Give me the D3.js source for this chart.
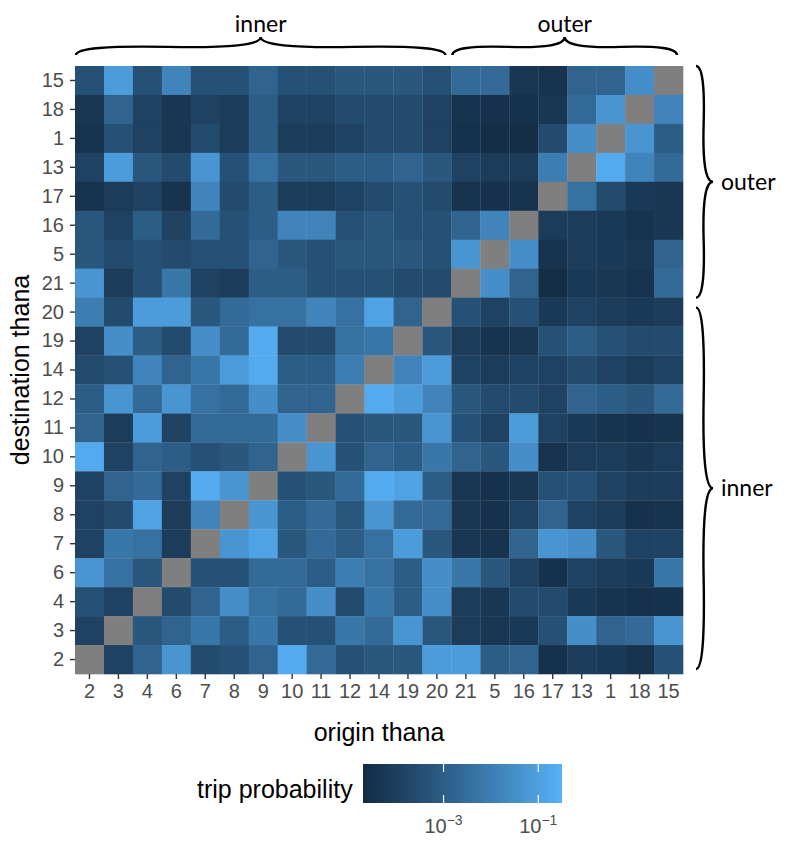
<!DOCTYPE html>
<html>
<head>
<meta charset="utf-8">
<script src="https://cdn.jsdelivr.net/npm/d3@7"></script>
<style>
  body { margin: 0; background: #fff; }
  svg { display: block; }
</style>
</head>
<body>
<svg width="792" height="847"></svg>
<script>
// Origin thanas (x) and destination thanas (y, top to bottom)
const origins = ["2","3","4","6","7","8","9","10","11","12","14","19","20","21","5","16","17","13","1","18","15"];
const destinations = ["15","18","1","13","17","16","5","21","20","19","14","12","11","10","9","8","7","6","4","3","2"];

// log10 of trip probability, one row per destination (same order), null on the diagonal
const logProb = [
  [-3.4,-1.1,-3.4,-1.8,-3.4,-3.4,-2.8,-3.4,-3.4,-3.2,-3.2,-3.2,-3.4,-2.6,-2.6,-4.3,-4.4,-2.8,-2.8,-1.5,null],
  [-4.3,-2.8,-3.9,-4.3,-3.9,-4.1,-3.0,-3.9,-3.9,-3.6,-3.6,-3.6,-3.9,-4.4,-4.5,-4.5,-4.3,-2.6,-1.3,null,-1.8],
  [-4.4,-3.4,-3.9,-4.3,-3.6,-4.1,-3.0,-4.1,-4.1,-3.9,-3.6,-3.6,-3.9,-4.5,-4.6,-4.6,-3.6,-1.5,null,-1.3,-3.0],
  [-3.9,-1.1,-3.2,-3.6,-1.3,-3.4,-2.4,-3.2,-3.2,-3.0,-3.0,-2.8,-3.2,-3.9,-4.1,-4.1,-2.0,null,-0.7,-1.8,-2.6],
  [-4.4,-4.1,-3.9,-4.4,-1.8,-3.6,-3.0,-4.1,-4.1,-3.9,-3.6,-3.4,-3.6,-4.4,-4.5,-4.4,null,-2.4,-3.6,-4.2,-4.3],
  [-3.2,-3.9,-3.0,-3.9,-2.6,-3.4,-3.0,-1.8,-1.8,-3.4,-3.2,-3.4,-3.4,-2.8,-1.8,null,-4.1,-4.1,-4.2,-4.4,-4.3],
  [-3.2,-3.6,-3.4,-3.6,-3.4,-3.4,-2.8,-3.2,-3.4,-3.2,-3.2,-3.2,-3.4,-1.3,null,-1.5,-4.4,-4.1,-4.2,-4.3,-2.8],
  [-1.3,-4.1,-3.4,-2.2,-3.9,-4.1,-3.0,-3.0,-3.4,-3.4,-3.4,-3.6,-3.6,null,-1.5,-2.8,-4.6,-4.2,-4.3,-4.4,-2.6],
  [-2.0,-3.6,-1.1,-1.1,-3.2,-2.6,-2.4,-2.4,-1.8,-2.4,-0.9,-2.8,null,-3.4,-3.9,-3.4,-4.2,-3.9,-4.1,-4.2,-4.1],
  [-3.9,-1.5,-3.0,-3.6,-1.5,-2.6,-0.7,-3.6,-3.6,-2.4,-2.2,null,-3.2,-4.1,-4.4,-4.3,-3.4,-3.0,-3.4,-3.6,-3.6],
  [-3.6,-3.4,-1.8,-2.8,-2.2,-1.1,-0.7,-3.0,-3.0,-2.0,null,-1.8,-1.1,-3.9,-4.1,-3.9,-3.9,-3.6,-3.9,-4.1,-3.9],
  [-3.0,-1.3,-2.6,-1.3,-2.4,-2.6,-1.5,-2.8,-2.8,null,-0.7,-1.1,-1.8,-3.2,-3.6,-3.6,-3.9,-2.8,-3.0,-3.2,-2.6],
  [-2.8,-4.1,-1.1,-3.9,-2.6,-2.6,-2.6,-1.5,null,-3.4,-3.2,-3.2,-1.3,-3.4,-3.9,-1.1,-3.9,-4.2,-4.4,-4.5,-4.4],
  [-0.7,-3.9,-2.8,-3.0,-3.4,-3.2,-2.8,null,-1.3,-3.4,-2.8,-3.0,-2.2,-2.8,-3.2,-1.5,-4.4,-4.1,-4.1,-4.3,-4.1],
  [-3.9,-2.8,-2.6,-3.9,-0.7,-1.3,null,-3.4,-3.2,-2.6,-0.7,-0.9,-3.0,-4.3,-4.5,-4.3,-3.4,-3.4,-3.9,-4.1,-4.1],
  [-3.9,-3.6,-0.9,-4.1,-1.8,null,-1.3,-3.0,-2.6,-3.2,-1.3,-2.6,-2.6,-4.3,-4.5,-3.9,-2.8,-3.9,-4.1,-4.5,-4.4],
  [-3.9,-2.2,-2.4,-4.1,null,-1.3,-0.9,-3.2,-2.6,-3.0,-2.4,-1.1,-3.2,-4.3,-4.4,-2.8,-1.3,-1.5,-3.2,-3.9,-3.9],
  [-1.3,-2.4,-3.2,null,-3.4,-3.4,-2.6,-2.6,-3.0,-2.0,-2.4,-3.0,-1.5,-2.2,-3.2,-3.9,-4.5,-3.9,-4.1,-4.2,-2.2],
  [-3.4,-3.9,null,-3.6,-2.8,-1.5,-2.4,-2.6,-1.5,-3.6,-2.2,-3.0,-1.5,-4.1,-4.3,-3.6,-3.6,-4.2,-4.4,-4.5,-4.5],
  [-3.9,null,-3.2,-2.8,-2.2,-3.0,-2.2,-3.4,-3.4,-2.2,-2.6,-1.3,-3.2,-4.1,-4.3,-4.2,-3.4,-1.5,-2.8,-2.6,-1.3],
  [null,-3.9,-2.8,-1.3,-3.6,-3.4,-2.8,-0.7,-2.6,-3.4,-3.2,-3.2,-1.1,-1.1,-3.0,-2.8,-4.5,-4.1,-4.2,-4.4,-3.4]
];

// Legend ticks (log10 values) and group braces
const legendTicks = [-3, -1];
const colGroups = [{label: "inner", from: "2", to: "20"}, {label: "outer", from: "21", to: "15"}];
const rowGroups = [{label: "outer", from: "15", to: "21"}, {label: "inner", from: "20", to: "2"}];

const svg = d3.select("svg");

// Panel geometry
const panelLeft = 75, panelRight = 683, panelTop = 66, panelBottom = 674;

const x = d3.scaleBand().domain(origins).range([panelLeft, panelRight]);
const y = d3.scaleBand().domain(destinations).range([panelTop, panelBottom]);

const logDomain = [-4.7, -0.5];
const color = d3.scaleLinear().domain(logDomain).range(["#132B43", "#56B1F7"])
  .interpolate(d3.interpolateLab).clamp(true);

// Flatten cells
const cells = [];
destinations.forEach((dest, i) => {
  origins.forEach((orig, j) => {
    cells.push({origin: orig, dest: dest, v: logProb[i][j]});
  });
});

// Tiles
svg.append("g").selectAll("rect")
  .data(cells)
  .enter()
  .append("rect")
  .attr("x", d => x(d.origin))
  .attr("y", d => y(d.dest))
  .attr("width", x.bandwidth() + 0.3)
  .attr("height", y.bandwidth() + 0.3)
  .attr("fill", d => d.v === null ? "#7F7F7F" : color(d.v));

// Axes
const xAxis = svg.append("g")
  .attr("transform", `translate(0,${panelBottom})`)
  .call(d3.axisBottom(x).tickSize(5).tickPadding(5));
const yAxis = svg.append("g")
  .attr("transform", `translate(${panelLeft},0)`)
  .call(d3.axisLeft(y).tickSize(5).tickPadding(6));

[xAxis, yAxis].forEach(a => {
  a.select(".domain").remove();
  a.selectAll(".tick line").attr("stroke", "#333333").attr("stroke-width", 1.4);
  a.selectAll(".tick text")
    .attr("fill", "#4D4D4D")
    .style("font-family", "'Liberation Sans', Arial, sans-serif")
    .style("font-size", "20px");
});

// Axis titles
svg.append("text")
  .text("origin thana")
  .attr("x", (panelLeft + panelRight) / 2)
  .attr("y", 741)
  .attr("text-anchor", "middle")
  .style("font-family", "'Liberation Sans', Arial, sans-serif")
  .style("font-size", "25px");

svg.append("text")
  .text("destination thana")
  .attr("transform", `translate(29,${(panelTop + panelBottom) / 2}) rotate(-90)`)
  .attr("text-anchor", "middle")
  .style("font-family", "'Liberation Sans', Arial, sans-serif")
  .style("font-size", "25px");

// Curly brace path between two points, bulging to the left of the direction of travel
function bracePath(x1, y1, x2, y2, w, q) {
  let dx = x1 - x2, dy = y1 - y2;
  const len = Math.sqrt(dx * dx + dy * dy);
  dx /= len; dy /= len;
  const qx1 = x1 + q * w * dy, qy1 = y1 - q * w * dx;
  const qx2 = (x1 - .25 * len * dx) + (1 - q) * w * dy, qy2 = (y1 - .25 * len * dy) - (1 - q) * w * dx;
  const tx1 = (x1 - .5 * len * dx) + w * dy, ty1 = (y1 - .5 * len * dy) - w * dx;
  const qx3 = x2 + q * w * dy, qy3 = y2 - q * w * dx;
  const qx4 = (x1 - .75 * len * dx) + (1 - q) * w * dy, qy4 = (y1 - .75 * len * dy) - (1 - q) * w * dx;
  return `M${x1},${y1} Q${qx1},${qy1} ${qx2},${qy2} T${tx1},${ty1} ` +
         `M${x2},${y2} Q${qx3},${qy3} ${qx4},${qy4} T${tx1},${ty1}`;
}

const braceFont = "Lato, 'Open Sans', sans-serif";

// Top braces
colGroups.forEach(g => {
  const x0 = x(g.from) + 1, x1 = x(g.to) + x.bandwidth() - 6;
  svg.append("path")
    .attr("d", bracePath(x1, 55, x0, 55, 18, 0.55))
    .attr("fill", "none").attr("stroke", "#000").attr("stroke-width", 2.4);
  svg.append("text")
    .text(g.label)
    .attr("x", (x0 + x1) / 2)
    .attr("y", 32)
    .attr("text-anchor", "middle")
    .style("font-family", braceFont)
    .style("font-size", "23px");
});

// Right braces
rowGroups.forEach((g, i) => {
  const y0 = y(g.from) + (i === 0 ? 0 : 10), y1 = y(g.to) + y.bandwidth() - (i === 0 ? 0 : 5);
  svg.append("path")
    .attr("d", bracePath(696, y1, 696, y0, 17, 0.55))
    .attr("fill", "none").attr("stroke", "#000").attr("stroke-width", 2.4);
  svg.append("text")
    .text(g.label)
    .attr("x", 721)
    .attr("y", (y0 + y1) / 2)
    .attr("dy", "0.35em")
    .style("font-family", braceFont)
    .style("font-size", "23px");
});

// Legend
const lx = 363, lw = 199, ly = 764, lh = 39;
const lscale = d3.scaleLinear().domain(logDomain).range([lx, lx + lw]);

const grad = svg.append("defs").append("linearGradient").attr("id", "grad");
d3.range(0, 1.0001, 0.05).forEach(t => {
  grad.append("stop")
    .attr("offset", t)
    .attr("stop-color", color(logDomain[0] + t * (logDomain[1] - logDomain[0])));
});

svg.append("rect")
  .attr("x", lx).attr("y", ly).attr("width", lw).attr("height", lh)
  .attr("fill", "url(#grad)");

legendTicks.forEach(t => {
  const tx = lscale(t);
  svg.append("line").attr("x1", tx).attr("x2", tx).attr("y1", ly).attr("y2", ly + 8)
    .attr("stroke", "#fff").attr("stroke-width", 1.2);
  svg.append("line").attr("x1", tx).attr("x2", tx).attr("y1", ly + lh - 8).attr("y2", ly + lh)
    .attr("stroke", "#fff").attr("stroke-width", 1.2);
  const lab = svg.append("text")
    .attr("x", tx)
    .attr("y", 833)
    .attr("text-anchor", "middle")
    .attr("fill", "#4D4D4D")
    .style("font-family", "'Liberation Sans', Arial, sans-serif")
    .style("font-size", "20px");
  lab.append("tspan").text("10");
  lab.append("tspan").text("\u2212" + Math.abs(t))
    .attr("dy", "-0.55em")
    .style("font-size", "14px");
});

svg.append("text")
  .text("trip probability")
  .attr("x", 197)
  .attr("y", 798)
  .style("font-family", "'Liberation Sans', Arial, sans-serif")
  .style("font-size", "25px");
</script>
</body>
</html>
